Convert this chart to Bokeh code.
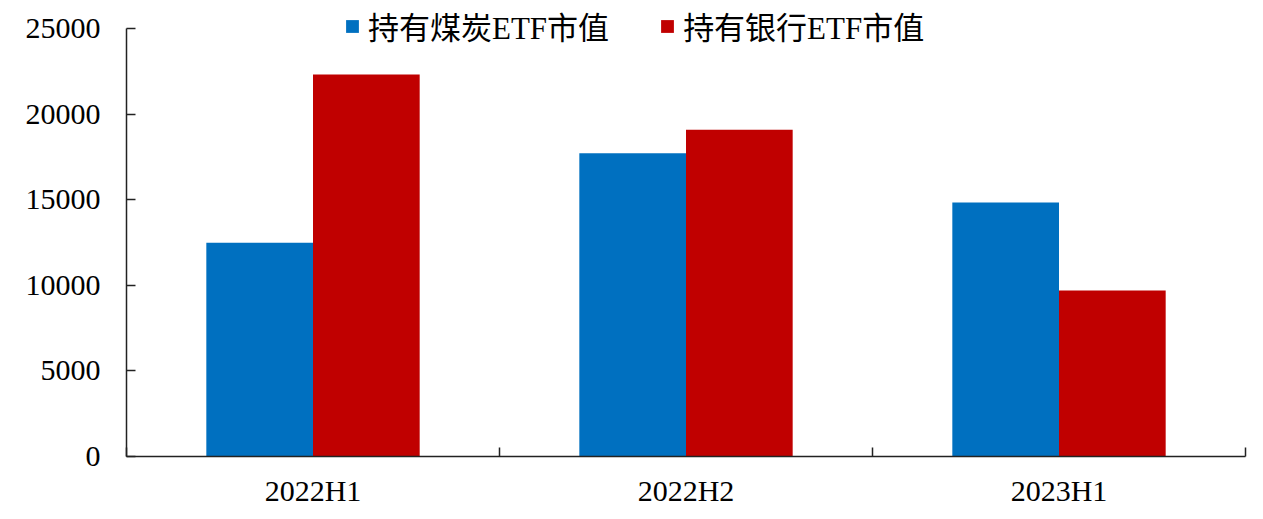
from bokeh.plotting import figure
from bokeh.models import ColumnDataSource, Range1d, FixedTicker, Legend, LegendItem
from bokeh.embed import file_html
from bokeh.resources import INLINE

categories = ["2022H1", "2022H2", "2023H1"]
coal_values = [12480, 17720, 14840]
bank_values = [22310, 19080, 9700]
series_names = ["持有煤炭ETF市值", "持有银行ETF市值"]
y_ticks = [0, 5000, 10000, 15000, 20000, 25000]
y_max = 25000

FONT = "'Liberation Serif', 'Times New Roman', 'Noto Sans CJK SC'"
BAR_W = 0.286
OFFSET = 0.143

# frame geometry (px): frame spans y 8..456, axis ends at 25000 (y=28)
FRAME_TOP = 8
AXIS_TOP = 28
FRAME_BOTTOM = 456
y_end = y_max * (FRAME_BOTTOM - FRAME_TOP) / (FRAME_BOTTOM - AXIS_TOP)

idx = list(range(len(categories)))
src = ColumnDataSource(dict(
    xc=[i + 0.5 - OFFSET for i in idx],
    xb=[i + 0.5 + OFFSET for i in idx],
    coal=coal_values,
    bank=bank_values,
))

W, H = 1255, 509
p = figure(width=W, height=H, output_backend="svg", toolbar_location=None,
           x_range=Range1d(0, len(categories)), y_range=Range1d(0, y_end),
           min_border_left=126, min_border_right=W - 1245, min_border_top=FRAME_TOP,
           min_border_bottom=H - FRAME_BOTTOM)
p.outline_line_color = None
p.grid.grid_line_color = None
p.background_fill_color = "white"

r1 = p.vbar(x="xc", top="coal", width=BAR_W, source=src, fill_color="#0070C0", line_color=None)
r2 = p.vbar(x="xb", top="bank", width=BAR_W, source=src, fill_color="#C00000", line_color=None)

# x axis: labels at category centres, separator ticks at boundaries
p.xaxis.ticker = FixedTicker(ticks=[i + 0.5 for i in idx], minor_ticks=list(range(len(categories) + 1)))
p.xaxis.major_label_overrides = {i + 0.5: c for i, c in zip(idx, categories)}
p.xaxis.major_tick_in = 0
p.xaxis.major_tick_out = 0
p.xaxis.minor_tick_in = 9
p.xaxis.minor_tick_out = 0
p.xaxis.minor_tick_line_color = "#222222"
p.xaxis.minor_tick_line_width = 1.5
p.xaxis.axis_line_color = "#222222"
p.xaxis.axis_line_width = 1.5
p.xaxis.major_label_text_font = FONT
p.xaxis.major_label_text_font_size = "30px"
p.xaxis.major_label_text_color = "black"
p.xaxis.major_label_standoff = 17

p.yaxis.ticker = FixedTicker(ticks=y_ticks)
p.yaxis.bounds = (0, y_max)
p.yaxis.major_tick_in = 9
p.yaxis.major_tick_out = 0
p.yaxis.minor_tick_line_color = None
p.yaxis.major_tick_line_color = "#222222"
p.yaxis.major_tick_line_width = 1.5
p.yaxis.axis_line_color = "#222222"
p.yaxis.axis_line_width = 1.5
p.yaxis.major_label_text_font = FONT
p.yaxis.major_label_text_font_size = "30px"
p.yaxis.major_label_text_color = "black"
p.yaxis.major_label_standoff = 26

legend = Legend(items=[LegendItem(label=series_names[0], renderers=[r1]),
                       LegendItem(label=series_names[1], renderers=[r2])],
                orientation="horizontal", location=(218, 408))
legend.label_text_font = FONT
legend.label_text_font_size = "31px"
legend.label_text_color = "black"
legend.glyph_width = 16
legend.glyph_height = 16
legend.label_standoff = 8
legend.spacing = 50
legend.padding = 2
legend.margin = 0
legend.border_line_color = None
legend.background_fill_alpha = 0
p.add_layout(legend, "center")

open("out.html", "w").write(file_html(p, INLINE))
